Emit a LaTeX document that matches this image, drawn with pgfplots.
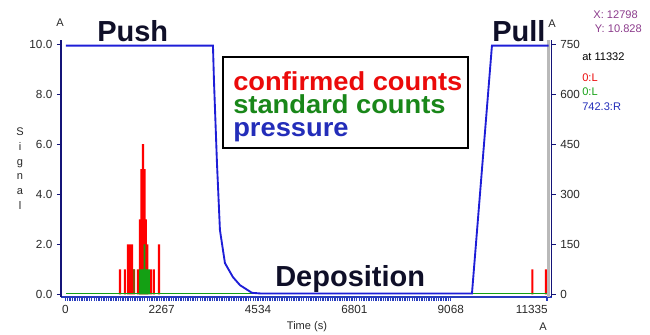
\documentclass[border=0pt]{standalone}
\usepackage{fontspec}
\setmainfont{Liberation Sans}
\usepackage{pgfplots}
\pgfplotsset{compat=1.18}
\definecolor{pblue}{RGB}{30,30,215}
\definecolor{navy}{RGB}{20,20,120}
\definecolor{cgreen}{RGB}{20,160,20}
\definecolor{lgreen}{RGB}{25,135,25}
\definecolor{lblue}{RGB}{35,45,185}
\definecolor{lred}{RGB}{235,10,10}
\definecolor{purp}{RGB}{140,60,140}
\definecolor{txt}{RGB}{40,40,40}
\definecolor{tickblue}{RGB}{40,60,190}
\definecolor{ttl}{RGB}{15,15,40}
\begin{document}
\begin{tikzpicture}
\begin{scope}[shift={(-45.75pt,222.75pt)}, x=0.75pt, y=-0.75pt]
\useasboundingbox (0,0) rectangle (650,335);
\end{scope}
\pgfplotsset{
  base/.style={at={(0,0)}, anchor=south west, scale only axis,
    width=368pt, height=192.75pt,
    xmin=-101, xmax=11442,
    /pgf/number format/assume math mode=true,
    tick label style={font=\fontsize{8.8}{10}\selectfont, text=txt},
    tick align=outside, major tick length=3pt, minor tick length=3pt,
  }
}
\begin{axis}[base,
  ymin=-0.1, ymax=10.16,
  axis x line*=bottom, axis y line*=left,
  x axis line style={tickblue, line width=0.8pt},
  y axis line style={navy, line width=1.2pt},
  scaled x ticks=false,
  xtick={0,2267,4534,6801,9068},
  xticklabels={0,2267,4534,6801,9068},
  extra x ticks={11335},
  extra x tick labels={11335},
  extra x tick style={xticklabel style={anchor=north east, xshift=4pt}},
  minor x tick num=39,
  xtick style={tickblue, line width=1pt},
  minor x tick style={tickblue, line width=1pt},
  ytick={0,2,4,6,8,10},
  ytick style={navy, line width=0.6pt},
  yticklabel style={/pgf/number format/.cd, fixed, fixed zerofill, precision=1},
]
% confirmed counts
\addplot[ybar, bar width=48, bar shift=0pt, fill=red, draw=none] coordinates {
(1287,1) (1404,1) (1475,2) (1522,2) (1569,2) (1616,1) (1710,1)
(1757,3) (1792,5) (1828,6) (1863,5) (1898,3) (1933,2)
(2016,1) (2086,1) (2204,2) (10989,1) (11306,1)
};
% standard counts
\addplot[ybar, bar width=48, bar shift=0pt, fill=cgreen, draw=none, fill opacity=0.5] coordinates {
(1616,1)
};
\addplot[ybar, bar width=42, bar shift=0pt, fill=cgreen, draw=none] coordinates {
(1757,1) (1792,1) (1828,1) (1863,2) (1898,1) (1933,1) (1969,1)
};
\addplot[cgreen, line width=1.1pt] coordinates {(16,0.04) (11371,0.04)};
\end{axis}
\begin{axis}[base,
  ymin=-7.5, ymax=762,
  axis x line=none, axis y line*=right,
  y axis line style={navy, line width=1.2pt},
  ytick={0,150,300,450,600,750},
  ytick style={navy, line width=0.6pt},
]
\addplot[gray!55, line width=1.9pt] coordinates {(11371,-7.5) (11371,762)};
\addplot[pblue, line width=1.4pt] coordinates {
(16,745) (3474,745) (3497,642) (3568,394) (3638,193) (3756,94) (3944,52)
(4109,28) (4391,5) (4600,3) (9567,3) (10037,745) (11371,745)
};
\end{axis}
\begin{scope}[shift={(-45.75pt,222.75pt)}, x=0.75pt, y=-0.75pt]
\node[font=\fontsize{21.75}{24}\selectfont\bfseries, text=ttl, anchor=base west, inner sep=0pt] at (97,42) {Push};
\node[font=\fontsize{21.75}{24}\selectfont\bfseries, text=ttl, anchor=base west, inner sep=0pt] at (492,42) {Pull};
\node[font=\fontsize{21.75}{24}\selectfont\bfseries, text=ttl, anchor=base west, inner sep=0pt] at (275,287) {Deposition};
\draw[black, line width=1.5pt, fill=white] (223,57) rectangle (468,148);
\node[font=\fontsize{19.5}{21}\selectfont\bfseries, text=lred, anchor=base west, inner sep=0pt, xscale=1.05] at (233,91) {confirmed counts};
\node[font=\fontsize{19.5}{21}\selectfont\bfseries, text=lgreen, anchor=base west, inner sep=0pt, xscale=1.05] at (233,114) {standard counts};
\node[font=\fontsize{19.5}{21}\selectfont\bfseries, text=lblue, anchor=base west, inner sep=0pt, xscale=1.05] at (233,137) {pressure};
\node[font=\fontsize{8.3}{11}\selectfont, text=txt, align=center, inner sep=0pt] at (20,168.5) {S\\i\\g\\n\\a\\l};
\node[font=\fontsize{8.3}{10}\selectfont, text=txt, inner sep=0pt] at (307,327) {Time (s)};
\node[font=\fontsize{8.3}{10}\selectfont, text=txt, inner sep=0pt] at (60,23) {A};
\node[font=\fontsize{8.3}{10}\selectfont, text=txt, inner sep=0pt] at (552,24) {A};
\node[font=\fontsize{8.3}{10}\selectfont, text=txt, inner sep=0pt] at (543,327) {A};
\node[font=\fontsize{8.3}{10}\selectfont, text=purp, anchor=east, inner sep=0pt] at (638,15) {X: 12798};
\node[font=\fontsize{8.3}{10}\selectfont, text=purp, anchor=east, inner sep=0pt] at (642,29) {Y: 10.828};
\node[font=\fontsize{8.3}{10}\selectfont, text=black, anchor=west, inner sep=0pt] at (582,57) {at 11332};
\node[font=\fontsize{8.3}{10}\selectfont, text=lred, anchor=west, inner sep=0pt] at (582,78) {0:L};
\node[font=\fontsize{8.3}{10}\selectfont, text=cgreen, anchor=west, inner sep=0pt] at (582,92) {0:L};
\node[font=\fontsize{8.3}{10}\selectfont, text=lblue, anchor=west, inner sep=0pt] at (582,107) {742.3:R};
\end{scope}
\end{tikzpicture}
\end{document}
